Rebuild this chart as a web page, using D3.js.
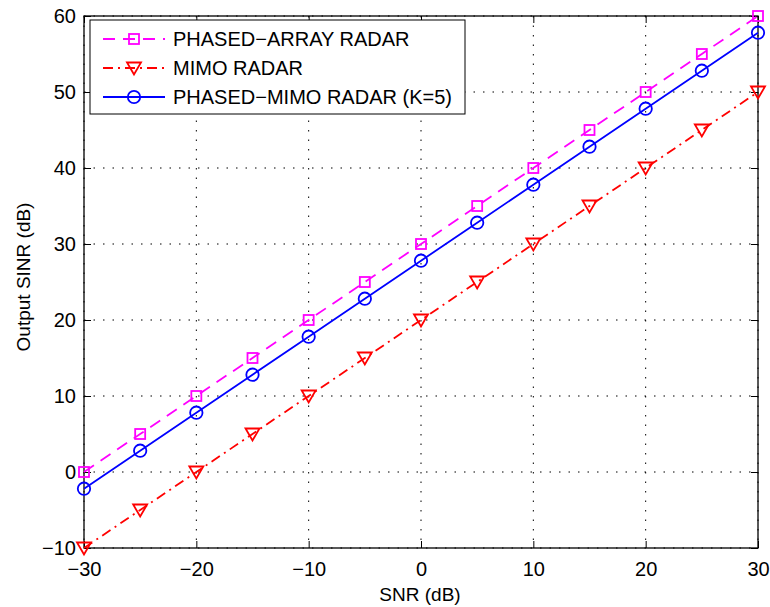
<!DOCTYPE html>
<html><head><meta charset="utf-8">
<script src="https://cdn.jsdelivr.net/npm/d3@7/dist/d3.min.js"></script>
<style>body{margin:0;background:#fff}svg{display:block}text{font-family:"Liberation Sans",Arial,sans-serif}</style>
</head><body>
<svg id="c" width="770" height="607"></svg>
<script>
const snr = [-30,-25,-20,-15,-10,-5,0,5,10,15,20,25,30];
const phasedArray = [0,5,10,15,20,25,30,35,40,45,50,55,60];
const mimo = [-10,-5,0,5,10,15,20,25,30,35,40,45,50];
const phasedMimo = [-2.2,2.8,7.8,12.8,17.8,22.8,27.8,32.8,37.8,42.8,47.8,52.8,57.8];
const xTicks = [-30,-20,-10,0,10,20,30];
const yTicks = [-10,0,10,20,30,40,50,60];
const seriesNames = ["PHASED\u2212ARRAY RADAR","MIMO RADAR","PHASED\u2212MIMO RADAR (K=5)"];

const L=84,R=758,T=16,B=548;
const svg=d3.select("#c");
const x=d3.scaleLinear().domain([-30,30]).range([L,R]);
const y=d3.scaleLinear().domain([-10,60]).range([B,T]);
const fmt=d=>d<0?"\u2212"+Math.abs(d):String(d);
const FS=20;

// grid
const g=svg.append("g");
g.selectAll(".gx").data(xTicks).join("line").attr("x1",d=>x(d)).attr("x2",d=>x(d)).attr("y1",T).attr("y2",B)
 .attr("stroke","#000").attr("stroke-width",1).attr("stroke-dasharray","1.5,8");
g.selectAll(".gy").data(yTicks).join("line").attr("y1",d=>y(d)).attr("y2",d=>y(d)).attr("x1",L).attr("x2",R)
 .attr("stroke","#000").attr("stroke-width",1).attr("stroke-dasharray","1.5,8");

// axes
const xa=svg.append("g").attr("transform",`translate(0,${B})`).call(d3.axisBottom(x).tickValues(xTicks).tickFormat(fmt).tickSizeInner(-7).tickSizeOuter(0).tickPadding(14));
const xt=svg.append("g").attr("transform",`translate(0,${T})`).call(d3.axisTop(x).tickValues(xTicks).tickFormat("").tickSizeInner(-7).tickSizeOuter(0));
const ya=svg.append("g").attr("transform",`translate(${L},0)`).call(d3.axisLeft(y).tickValues(yTicks).tickFormat(fmt).tickSizeInner(-7).tickSizeOuter(0).tickPadding(8));
const yr=svg.append("g").attr("transform",`translate(${R},0)`).call(d3.axisRight(y).tickValues(yTicks).tickFormat("").tickSizeInner(-7).tickSizeOuter(0));
[xa,xt,ya,yr].forEach(a=>{a.select(".domain").remove();a.selectAll("line").attr("stroke","#000");a.selectAll("text").attr("font-size",FS).attr("font-family","Liberation Sans, Arial").attr("fill","#000");});
svg.append("rect").attr("x",L).attr("y",T).attr("width",R-L).attr("height",B-T).attr("fill","none").attr("stroke","#000").attr("stroke-width",1.3);

// series
const mk=(vals)=>snr.map((s,i)=>[s,vals[i]]);
const line=d3.line().x(d=>x(d[0])).y(d=>y(d[1]));
const series=[
 {data:mk(phasedArray),color:"#ff00ff",dash:"12,8",marker:"square"},
 {data:mk(mimo),color:"#ff0000",dash:"10,5,2,5",marker:"tri"},
 {data:mk(phasedMimo),color:"#0000ff",dash:null,marker:"circle"}
];
function drawMarker(sel,type,color){
  let m;
  if(type==="square") m=sel.append("rect").attr("x",-5).attr("y",-5).attr("width",10).attr("height",10);
  else if(type==="circle") m=sel.append("circle").attr("r",6.2);
  else m=sel.append("path").attr("d","M-7,-5.5L7,-5.5L0,6.5Z");
  m.attr("fill","none").attr("stroke",color).attr("stroke-width",1.8);
}
series.forEach(s=>{
  svg.append("path").datum(s.data).attr("d",line).attr("fill","none").attr("stroke",s.color).attr("stroke-width",1.8).attr("stroke-dasharray",s.dash);
  svg.append("g").selectAll("g").data(s.data).join("g").attr("transform",d=>`translate(${x(d[0])},${y(d[1])})`).each(function(){drawMarker(d3.select(this),s.marker,s.color);});
});

// legend
const lg=svg.append("g");
lg.append("rect").attr("x",90).attr("y",20).attr("width",375).attr("height",94).attr("fill","#fff").attr("stroke","#000").attr("stroke-width",1);
series.forEach((s,i)=>{
  const cy=39+i*29;
  lg.append("line").attr("x1",103).attr("x2",165).attr("y1",cy).attr("y2",cy).attr("stroke",s.color).attr("stroke-width",1.8).attr("stroke-dasharray",s.dash);
  const m=lg.append("g").attr("transform",`translate(134,${cy})`);
  drawMarker(m,s.marker,s.color);
  lg.append("text").attr("x",173).attr("y",cy+7).attr("font-size",FS).attr("fill","#000").text(seriesNames[i]);
});

// labels
svg.append("text").attr("x",420).attr("y",601).attr("text-anchor","middle").attr("font-size",FS-1).text("SNR (dB)");
svg.append("text").attr("transform",`translate(30,277) rotate(-90)`).attr("text-anchor","middle").attr("font-size",FS-1).text("Output SINR (dB)");
</script>
</body></html>
